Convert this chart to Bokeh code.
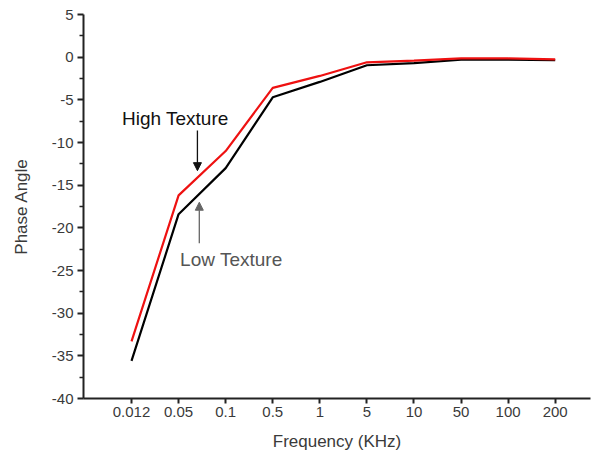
from bokeh.plotting import figure
from bokeh.models import FixedTicker, Arrow, NormalHead, Label
from bokeh.embed import file_html
from bokeh.resources import INLINE

freq_labels = ["0.012", "0.05", "0.1", "0.5", "1", "5", "10", "50", "100", "200"]
high_texture = [-33.3, -16.2, -11.0, -3.6, -2.2, -0.6, -0.4, -0.15, -0.15, -0.27]
low_texture = [-35.6, -18.4, -13.0, -4.7, -2.9, -0.95, -0.7, -0.3, -0.3, -0.35]
y_ticks = [5, 0, -5, -10, -15, -20, -25, -30, -35, -40]

idx = list(range(len(freq_labels)))
FONT = "Liberation Sans"

p = figure(width=592, height=454, output_backend="svg", toolbar_location=None,
           x_range=(-1.02, 9.75), y_range=(-40, 5),
           min_border_left=83, min_border_right=2, min_border_top=14, min_border_bottom=56)
p.outline_line_color = None
p.xgrid.visible = False
p.ygrid.visible = False
p.background_fill_color = "white"

p.line(idx, low_texture, line_color="black", line_width=2.2)
p.line(idx, high_texture, line_color="#ee1111", line_width=2.2)

# axes
p.xaxis.ticker = FixedTicker(ticks=idx)
p.xaxis.major_label_overrides = {i: l for i, l in zip(idx, freq_labels)}
p.yaxis.ticker = FixedTicker(ticks=y_ticks, minor_ticks=[v + 2.5 for v in y_ticks[1:]])
p.yaxis.major_label_overrides = {v: str(v) for v in y_ticks}
for ax in (p.xaxis[0], p.yaxis[0]):
    ax.axis_line_width = 2
    ax.axis_line_color = "#222222"
    ax.major_tick_line_color = "#222222"
    ax.major_tick_line_width = 2
    ax.minor_tick_line_color = "#222222"
    ax.minor_tick_line_width = 1.5
    ax.major_label_text_font = FONT
    ax.major_label_text_font_size = "15px"
    ax.major_label_text_color = "#3a3a3a"
    ax.axis_label_text_font = FONT
    ax.axis_label_text_font_size = "17px"
    ax.axis_label_text_font_style = "normal"
    ax.axis_label_text_color = "#3a3a3a"
p.xaxis.major_tick_out = 5
p.xaxis.major_tick_in = 0
p.xaxis.minor_tick_out = 0
p.xaxis.minor_tick_in = 0
p.yaxis.major_tick_out = 6
p.yaxis.major_tick_in = 0
p.yaxis.minor_tick_out = 4
p.yaxis.minor_tick_in = 0
p.xaxis.major_label_standoff = 3
p.yaxis.major_label_standoff = 4
p.xaxis.axis_label = "Frequency (KHz)"
p.yaxis.axis_label = "Phase Angle"
p.xaxis.axis_label_standoff = 12
p.yaxis.axis_label_standoff = 18

# annotations
p.add_layout(Label(x=0.93, y=-7.15, text="High Texture", text_align="center",
                   text_baseline="middle", text_font=FONT, text_font_size="19px",
                   text_color="#111111"))
p.add_layout(Arrow(x_start=1.40, y_start=-8.6, x_end=1.40, y_end=-13.3,
                   line_color="#111111", line_width=1.3,
                   end=NormalHead(size=8, fill_color="#111111", line_color="#111111")))
p.add_layout(Label(x=2.12, y=-23.7, text="Low Texture", text_align="center",
                   text_baseline="middle", text_font=FONT, text_font_size="19px",
                   text_color="#555555"))
p.add_layout(Arrow(x_start=1.44, y_start=-21.8, x_end=1.44, y_end=-17.0,
                   line_color="#666666", line_width=1.3,
                   end=NormalHead(size=8, fill_color="#666666", line_color="#666666")))

open("out.html", "w").write(file_html(p, INLINE))
